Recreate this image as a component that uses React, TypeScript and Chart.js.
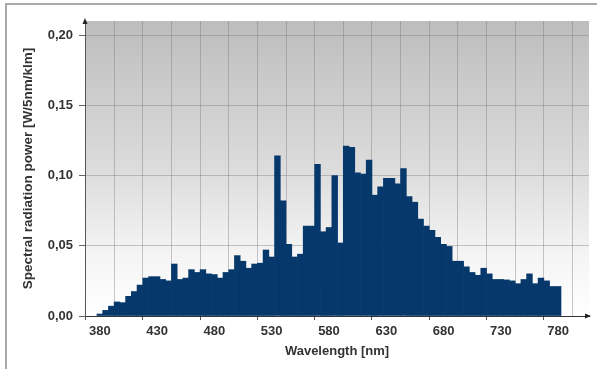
import React, { useEffect, useRef } from "react";
import { Chart, registerables } from "chart.js";

Chart.register(...registerables);

const wavelengths = [
  380, 385, 390, 395, 400, 405, 410, 415, 420, 425,
  430, 435, 440, 445, 450, 455, 460, 465, 470, 475,
  480, 485, 490, 495, 500, 505, 510, 515, 520, 525,
  530, 535, 540, 545, 550, 555, 560, 565, 570, 575,
  580, 585, 590, 595, 600, 605, 610, 615, 620, 625,
  630, 635, 640, 645, 650, 655, 660, 665, 670, 675,
  680, 685, 690, 695, 700, 705, 710, 715, 720, 725,
  730, 735, 740, 745, 750, 755, 760, 765, 770, 775,
  780,
];

const power = [
  0.0014, 0.004, 0.007, 0.010, 0.0095, 0.014, 0.0174, 0.022, 0.027, 0.028,
  0.028, 0.026, 0.025, 0.037, 0.026, 0.027, 0.033, 0.031, 0.033, 0.030,
  0.0295, 0.027, 0.031, 0.033, 0.043, 0.039, 0.034, 0.037, 0.0376, 0.047,
  0.042, 0.114, 0.082, 0.051, 0.042, 0.044, 0.064, 0.064, 0.108, 0.060,
  0.063, 0.100, 0.052, 0.121, 0.120, 0.102, 0.101, 0.111, 0.086, 0.092,
  0.098, 0.098, 0.094, 0.105, 0.085, 0.081, 0.069, 0.064, 0.061, 0.056,
  0.051, 0.0495, 0.039, 0.039, 0.035, 0.031, 0.029, 0.034, 0.030, 0.026,
  0.026, 0.0257, 0.025, 0.023, 0.026, 0.030, 0.023, 0.027, 0.025, 0.021,
  0.021,
];

const xGridValues = [
  380, 405, 430, 455, 480, 505, 530, 555, 580, 605, 630, 655, 680, 705, 730, 755, 780,
];
const xLabelValues = [380, 430, 480, 530, 580, 630, 680, 730, 780];
const yTickValues = [0, 0.05, 0.1, 0.15, 0.2];
const yTickLabels = ["0,00", "0,05", "0,10", "0,15", "0,20"];

const xTitle = "Wavelength [nm]";
const yTitle = "Spectral radiation power [W/5nm/klm]";

const FONT = "'Liberation Sans', Arial, Helvetica, sans-serif";

const bgPlugin = {
  id: "plotBg",
  beforeDraw(chart: any) {
    const { ctx, chartArea } = chart;
    if (!chartArea) return;
    const g = ctx.createLinearGradient(0, chartArea.top, 0, chartArea.bottom);
    g.addColorStop(0, "#bdbdbd");
    g.addColorStop(0.5, "#dcdcdc");
    g.addColorStop(0.8, "#f5f5f5");
    g.addColorStop(1, "#ffffff");
    ctx.save();
    ctx.fillStyle = g;
    ctx.fillRect(
      chartArea.left,
      chartArea.top,
      chartArea.right - chartArea.left,
      chartArea.bottom - chartArea.top
    );
    ctx.restore();
  },
  afterDraw(chart: any) {
    const { ctx, chartArea } = chart;
    ctx.save();
    ctx.fillStyle = "#222";
    ctx.beginPath();
    ctx.moveTo(chartArea.left, chartArea.top - 3);
    ctx.lineTo(chartArea.left - 2.5, chartArea.top + 3);
    ctx.lineTo(chartArea.left + 2.5, chartArea.top + 3);
    ctx.closePath();
    ctx.fill();
    ctx.beginPath();
    ctx.moveTo(chartArea.right + 2, chartArea.bottom);
    ctx.lineTo(chartArea.right - 4, chartArea.bottom - 2.5);
    ctx.lineTo(chartArea.right - 4, chartArea.bottom + 2.5);
    ctx.closePath();
    ctx.fill();
    ctx.restore();
  },
};

export default function App() {
  const ref = useRef<HTMLCanvasElement | null>(null);

  useEffect(() => {
    if (!ref.current) return;
    const chart = new Chart(ref.current, {
      type: "bar",
      data: {
        datasets: [
          {
            data: wavelengths.map((w, i) => ({ x: w, y: power[i] })),
            backgroundColor: "#06386c",
            borderWidth: 0,
            barPercentage: 1,
            categoryPercentage: 1,
          },
        ],
      },
      options: {
        animation: false,
        responsive: false,
        devicePixelRatio: 1,
        layout: { padding: { left: 0, top: 21, right: 8, bottom: 0 } },
        plugins: {
          legend: { display: false },
          tooltip: { enabled: false },
        },
        scales: {
          x: {
            type: "linear",
            min: 380,
            max: 794,
            afterBuildTicks: (scale: any) => {
              scale.ticks = xGridValues.map((v) => ({ value: v }));
            },
            afterFit: (scale: any) => {
              scale.height = 53;
            },
            grid: {
              color: "rgba(120,120,120,0.4)",
              lineWidth: 1,
              tickLength: 4,
              tickColor: (c: any) =>
                xLabelValues.includes(c.tick && c.tick.value) ? "#555" : "rgba(0,0,0,0)",
            },
            border: { display: true, color: "#333", width: 1, z: 1 },
            ticks: {
              autoSkip: false,
              maxRotation: 0,
              padding: 4,
              color: "#333",
              font: { family: FONT, size: 13, weight: "bold" },
              callback: (v: any) => (xLabelValues.includes(Number(v)) ? String(v) : ""),
            },
            title: {
              display: true,
              text: xTitle,
              color: "#333",
              font: { family: FONT, size: 13, weight: "bold" },
              padding: { top: 0, bottom: 10 },
            },
          },
          y: {
            type: "linear",
            min: 0,
            max: 0.21,
            afterBuildTicks: (scale: any) => {
              scale.ticks = yTickValues.map((v) => ({ value: v }));
            },
            afterFit: (scale: any) => {
              scale.width = 85;
            },
            grid: {
              color: "rgba(120,120,120,0.4)",
              lineWidth: 1,
              tickLength: 6,
              tickColor: "#666",
            },
            border: { display: true, color: "#555", width: 1, z: 1 },
            ticks: {
              padding: 6,
              color: "#333",
              font: { family: FONT, size: 13, weight: "bold" },
              callback: (v: any) => {
                const i = yTickValues.findIndex((t) => Math.abs(t - Number(v)) < 1e-9);
                return i >= 0 ? yTickLabels[i] : "";
              },
            },
            title: {
              display: true,
              text: yTitle,
              color: "#333",
              font: { family: FONT, size: 13.5, weight: "bold" },
              padding: { top: 20, bottom: 0 },
            },
          },
        },
      },
      plugins: [bgPlugin],
    } as any);
    return () => chart.destroy();
  }, []);

  return (
    <div
      style={{
        position: "fixed",
        left: 0,
        top: 0,
        width: 597,
        height: 369,
        background: "#fff",
        overflow: "hidden",
      }}
    >
      <div
        style={{
          position: "absolute",
          left: 5,
          top: 3,
          width: 592,
          height: 366,
          borderTop: "2px solid #a9a9a9",
          borderLeft: "2px solid #a9a9a9",
          boxSizing: "border-box",
        }}
      />
      <canvas
        ref={ref}
        width={597}
        height={369}
        style={{ position: "absolute", left: 0, top: 0, width: 597, height: 369 }}
      />
    </div>
  );
}
